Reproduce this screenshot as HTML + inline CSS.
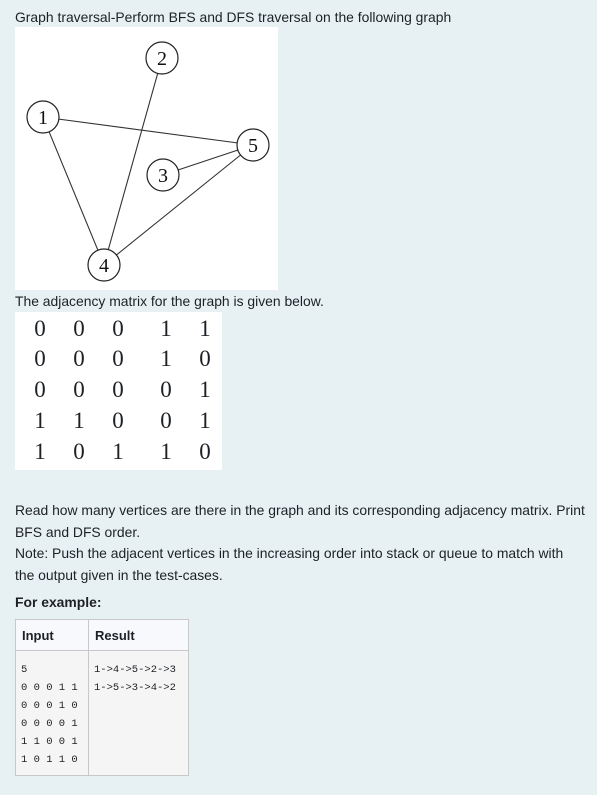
<!DOCTYPE html>
<html><head><meta charset="utf-8"><style>
body{margin:0;background:#e7f1f4;width:597px;height:795px;font-family:"Liberation Sans",sans-serif;color:#1d2125;position:relative;overflow:hidden}
.t{position:absolute;left:15px;font-size:13.9px;white-space:nowrap}
.mat{position:absolute;left:15px;top:312px;width:207px;height:158px;background:#fff}
.mat span{position:absolute;font-family:"Liberation Serif",serif;font-size:23px;transform:translate(-50%,-50%)}
table{position:absolute;left:15px;top:619px;border-collapse:collapse;background:#f5f5f5}
td,th{border:1px solid #c8c8c8;vertical-align:top;text-align:left}
th{background:#f8f9fc;font-size:13px;height:30px;padding:0 6px;vertical-align:middle}
td{font-family:"Liberation Mono",monospace;font-size:10.5px;line-height:18px;padding:10px 6px 2px 5px;height:112px}
</style></head><body>
<div class="t" style="top:9px">Graph traversal-Perform BFS and DFS traversal on the following graph</div>
<svg style="position:absolute;left:15px;top:27px" width="263" height="263">
<rect width="263" height="263" fill="#fff"/>
<g stroke="#333" stroke-width="1.1" fill="none">
<line x1="28" y1="90" x2="238" y2="118"/><line x1="28" y1="90" x2="89" y2="238"/>
<line x1="147" y1="31" x2="89" y2="238"/><line x1="148" y1="148" x2="238" y2="118"/>
<line x1="238" y1="118" x2="89" y2="238"/>
</g>
<g fill="#fff" stroke="#222" stroke-width="1.2">
<circle cx="147" cy="31" r="16"/><circle cx="28" cy="90" r="16"/><circle cx="238" cy="118" r="16"/><circle cx="148" cy="148" r="16"/><circle cx="89" cy="238" r="16"/>
</g>
<g font-family="Liberation Serif,serif" font-size="20" text-anchor="middle" fill="#111">
<text x="147" y="38">2</text><text x="28" y="97">1</text><text x="238" y="125">5</text><text x="148" y="155">3</text><text x="89" y="245">4</text>
</g></svg>
<div class="t" style="top:293px">The adjacency matrix for the graph is given below.</div>
<div class="mat">
<span style="left:25px;top:17px">0</span><span style="left:64px;top:17px">0</span><span style="left:103px;top:17px">0</span><span style="left:151px;top:17px">1</span><span style="left:190px;top:17px">1</span>
<span style="left:25px;top:47px">0</span><span style="left:64px;top:47px">0</span><span style="left:103px;top:47px">0</span><span style="left:151px;top:47px">1</span><span style="left:190px;top:47px">0</span>
<span style="left:25px;top:78px">0</span><span style="left:64px;top:78px">0</span><span style="left:103px;top:78px">0</span><span style="left:151px;top:78px">0</span><span style="left:190px;top:78px">1</span>
<span style="left:25px;top:109px">1</span><span style="left:64px;top:109px">1</span><span style="left:103px;top:109px">0</span><span style="left:151px;top:109px">0</span><span style="left:190px;top:109px">1</span>
<span style="left:25px;top:140px">1</span><span style="left:64px;top:140px">0</span><span style="left:103px;top:140px">1</span><span style="left:151px;top:140px">1</span><span style="left:190px;top:140px">0</span>
</div>
<div class="t" style="top:502px">Read how many vertices are there in the graph and its corresponding adjacency matrix. Print</div>
<div class="t" style="top:524px">BFS and DFS order.</div>
<div class="t" style="top:545px">Note: Push the adjacent vertices in the increasing order into stack or queue to match with</div>
<div class="t" style="top:567px">the output given in the test-cases.</div>
<div class="t" style="top:594px;font-weight:bold">For example:</div>
<table>
<tr><th style="width:60px">Input</th><th style="width:87px">Result</th></tr>
<tr><td>5<br>0 0 0 1 1<br>0 0 0 1 0<br>0 0 0 0 1<br>1 1 0 0 1<br>1 0 1 1 0</td><td>1-&gt;4-&gt;5-&gt;2-&gt;3<br>1-&gt;5-&gt;3-&gt;4-&gt;2</td></tr>
</table>
</body></html>
